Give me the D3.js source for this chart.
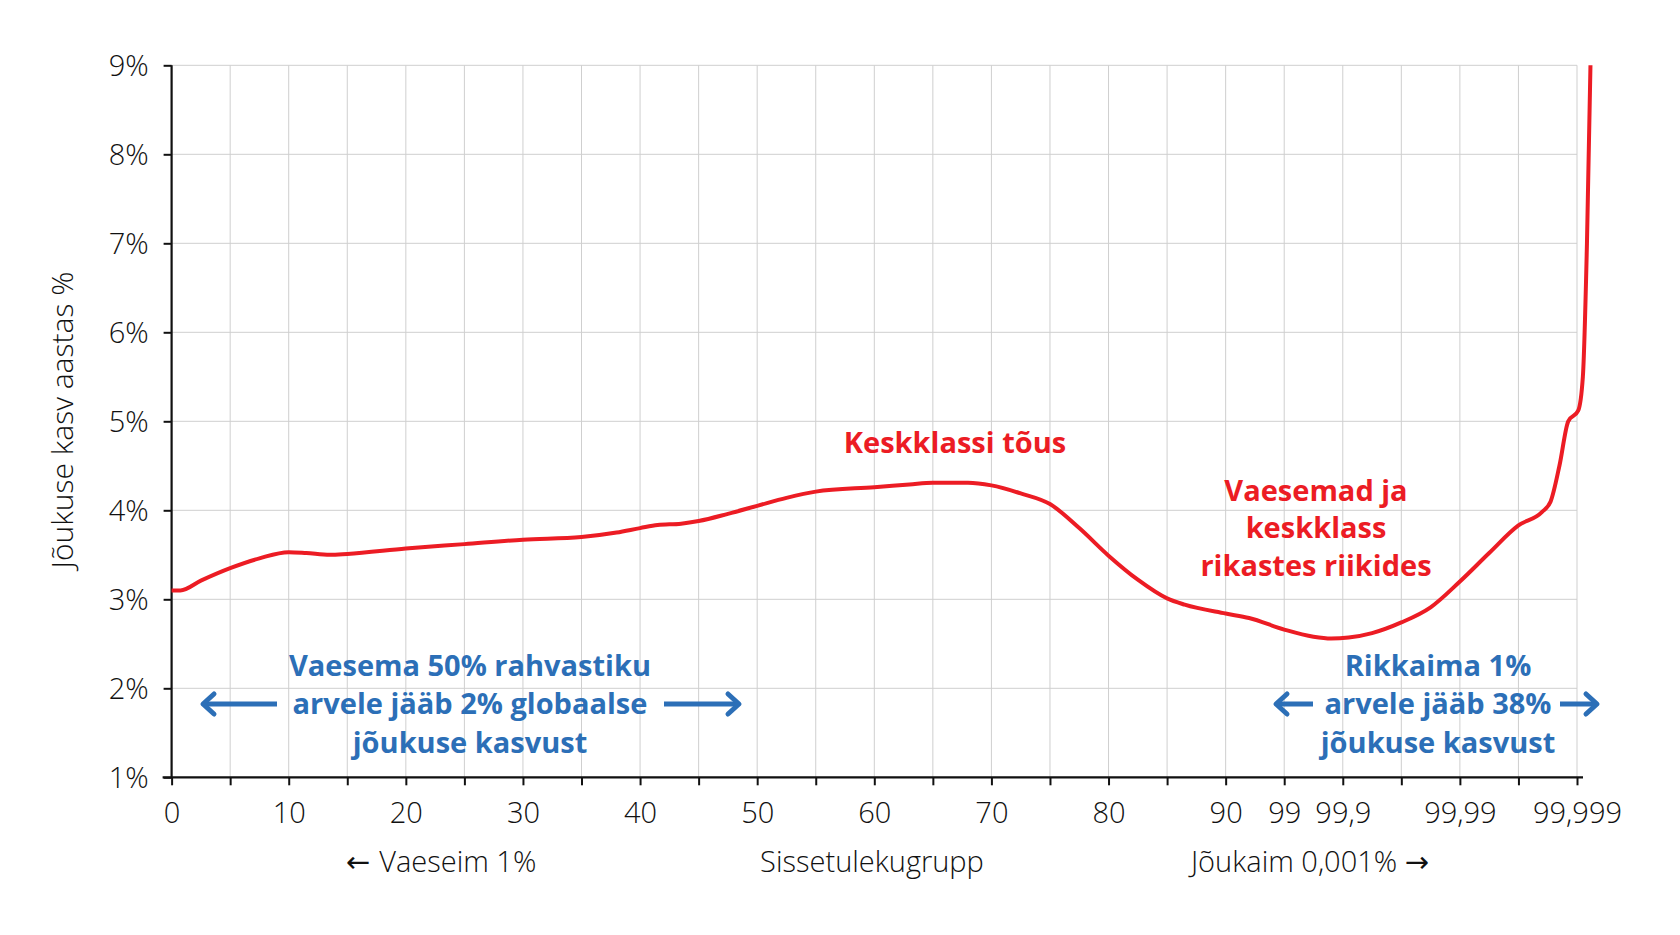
<html>
  <head>
    <script src="https://cdn.jsdelivr.net/npm/d3@7"></script>
    <style>
      body { margin: 0; background: #fff; }
      text { font-family: "Open Sans", sans-serif; }
    </style>
  </head>
  <body>
    <div id="chart"></div>
    <script>
      // income group index: 0..24, one step = one grid column
      const tickIndex = d3.range(0, 25);
      const tickLabels = ["0", "", "10", "", "20", "", "30", "", "40", "", "50", "", "60", "", "70", "",
                          "80", "", "90", "99", "99,9", "", "99,99", "", "99,999"];
      const yTicks = [1, 2, 3, 4, 5, 6, 7, 8, 9];

      // wealth growth per year (%)
      const groupIndex = [0, 0.15, 0.5, 1, 1.5, 2, 2.3, 2.7, 3, 4, 5, 6, 7, 7.6, 8, 8.3, 8.7, 9, 9.5,
                          10, 10.5, 11, 12, 12.6, 13, 13.6, 14, 14.5, 15, 15.5, 16, 16.5, 17, 17.3,
                          18, 18.4, 19, 19.5, 19.8, 20.1, 20.5, 21, 21.5, 22, 22.5, 23, 23.4, 23.55,
                          23.7, 23.85, 24.02, 24.1, 24.17, 24.23];
      const growth = [3.10, 3.10, 3.21, 3.35, 3.46, 3.53, 3.52, 3.50, 3.51, 3.57, 3.62, 3.67, 3.70, 3.75,
                      3.80, 3.835, 3.85, 3.88, 3.96, 4.05, 4.14, 4.21, 4.26, 4.29, 4.31, 4.31, 4.28, 4.19,
                      4.07, 3.80, 3.49, 3.22, 3.01, 2.94, 2.84, 2.79, 2.66, 2.58, 2.56, 2.57, 2.62, 2.74,
                      2.91, 3.20, 3.52, 3.83, 3.98, 4.10, 4.50, 5.00, 5.12, 5.5, 7.0, 9.0];

      const data = groupIndex.map((g, i) => ({ g: g, v: growth[i] }));

      const width = 1680, height = 935;
      const red = "#ec1c24", blue = "#2c6fb7";

      const svg = d3.select("#chart").append("svg")
        .attr("width", width)
        .attr("height", height);

      const x = d3.scaleLinear().domain([0, 24]).range([171.6, 1577]);
      const y = d3.scaleLinear().domain([1, 9]).range([777.3, 65.3]);

      // grid
      svg.append("g").selectAll("line")
        .data(tickIndex)
        .join("line")
        .attr("x1", d => x(d)).attr("x2", d => x(d))
        .attr("y1", y(9)).attr("y2", y(1))
        .attr("stroke", "#cfcfcf").attr("stroke-width", 1);

      svg.append("g").selectAll("line")
        .data(yTicks)
        .join("line")
        .attr("x1", x(0)).attr("x2", x(24))
        .attr("y1", d => y(d)).attr("y2", d => y(d))
        .attr("stroke", "#cfcfcf").attr("stroke-width", 1);

      // axes
      const xAxis = d3.axisBottom(x)
        .tickValues(tickIndex)
        .tickFormat(d => tickLabels[d])
        .tickSize(8)
        .tickSizeOuter(0);
      const xAxisGroup = svg.append("g")
        .attr("transform", `translate(0,${y(1)})`)
        .call(xAxis);
      xAxisGroup.select(".domain").remove();
      xAxisGroup.selectAll(".tick line").attr("stroke", "#111").attr("stroke-width", 2);
      xAxisGroup.selectAll(".tick text")
        .attr("y", 46).attr("dy", 0)
        .attr("fill", "#111")
        .style("font-size", "29px")
        .style("font-weight", 300);

      const yAxis = d3.axisLeft(y)
        .tickValues(yTicks)
        .tickFormat(d => d + "%")
        .tickSize(8)
        .tickSizeOuter(0);
      const yAxisGroup = svg.append("g")
        .attr("transform", `translate(${x(0)},0)`)
        .call(yAxis);
      yAxisGroup.select(".domain").remove();
      yAxisGroup.selectAll(".tick line").attr("stroke", "#111").attr("stroke-width", 2);
      yAxisGroup.selectAll(".tick text")
        .attr("x", -23).attr("dy", "0.36em")
        .attr("fill", "#111")
        .style("font-size", "29px")
        .style("font-weight", 300);

      // axis lines
      svg.append("line")
        .attr("x1", x(0) - 9).attr("x2", x(24) + 6)
        .attr("y1", y(1)).attr("y2", y(1))
        .attr("stroke", "#111").attr("stroke-width", 2.2);
      svg.append("line")
        .attr("x1", x(0)).attr("x2", x(0))
        .attr("y1", y(9)).attr("y2", y(1))
        .attr("stroke", "#111").attr("stroke-width", 2.2);

      // axis titles
      svg.append("text")
        .attr("transform", "translate(73,420) rotate(-90)")
        .attr("text-anchor", "middle")
        .attr("fill", "#111")
        .style("font-size", "30px")
        .style("font-weight", 300)
        .text("Jõukuse kasv aastas %");

      // bottom labels; arrows drawn in DejaVu for a larger glyph
      const bottomLabels = [
        { pre: "← ", t: "Vaeseim 1%", post: "", cx: 441 },
        { pre: "", t: "Sissetulekugrupp", post: "", cx: 872 },
        { pre: "", t: "Jõukaim 0,001% ", post: "→", cx: 1310 }
      ];
      const bl = svg.append("g").selectAll("text")
        .data(bottomLabels)
        .join("text")
        .attr("x", d => d.cx).attr("y", 872)
        .attr("text-anchor", "middle")
        .attr("fill", "#111")
        .style("font-size", "29px")
        .style("font-weight", 300);
      bl.append("tspan").style("font-family", "DejaVu Sans").style("font-weight", 400).text(d => d.pre);
      bl.append("tspan").text(d => d.t);
      bl.append("tspan").style("font-family", "DejaVu Sans").style("font-weight", 400).text(d => d.post);

      // the curve
      const line = d3.line()
        .x(d => x(d.g))
        .y(d => y(d.v))
        .curve(d3.curveMonotoneX);

      svg.append("path")
        .datum(data)
        .attr("d", line)
        .attr("fill", "none")
        .attr("stroke", red)
        .attr("stroke-width", 4)
        .attr("stroke-linejoin", "round");

      // annotations
      function block(lines, cx, cy, color, fs) {
        svg.append("g").selectAll("text")
          .data(lines)
          .join("text")
          .attr("x", cx)
          .attr("y", (d, i) => cy[i] + fs * 0.36)
          .attr("text-anchor", "middle")
          .attr("fill", color)
          .style("font-size", fs + "px")
          .style("font-weight", 700)
          .text(d => d);
      }

      block(["Keskklassi tõus"], 955, [443], red, 29);
      block(["Vaesemad ja", "keskklass", "rikastes riikides"], 1316, [491, 528, 566], red, 29);
      block(["Vaesema 50% rahvastiku", "arvele jääb 2% globaalse", "jõukuse kasvust"], 470, [666, 704, 743], blue, 29);
      block(["Rikkaima 1%", "arvele jääb 38%", "jõukuse kasvust"], 1438, [666, 704, 743], blue, 29);

      // blue arrows
      const arrows = [
        { x1: 277, x2: 203, y: 704 },
        { x1: 664, x2: 739, y: 704 },
        { x1: 1313, x2: 1276, y: 704 },
        { x1: 1560, x2: 1597, y: 704 }
      ];
      arrows.forEach(a => {
        const dir = a.x2 > a.x1 ? 1 : -1;
        svg.append("line")
          .attr("x1", a.x1).attr("x2", a.x2 - dir * 2)
          .attr("y1", a.y).attr("y2", a.y)
          .attr("stroke", blue).attr("stroke-width", 5);
        svg.append("path")
          .attr("d", `M${a.x2 - dir * 11},${a.y - 10} L${a.x2},${a.y} L${a.x2 - dir * 11},${a.y + 10}`)
          .attr("fill", "none")
          .attr("stroke", blue)
          .attr("stroke-width", 5)
          .attr("stroke-linecap", "round")
          .attr("stroke-linejoin", "round");
      });
    </script>
  </body>
</html>
